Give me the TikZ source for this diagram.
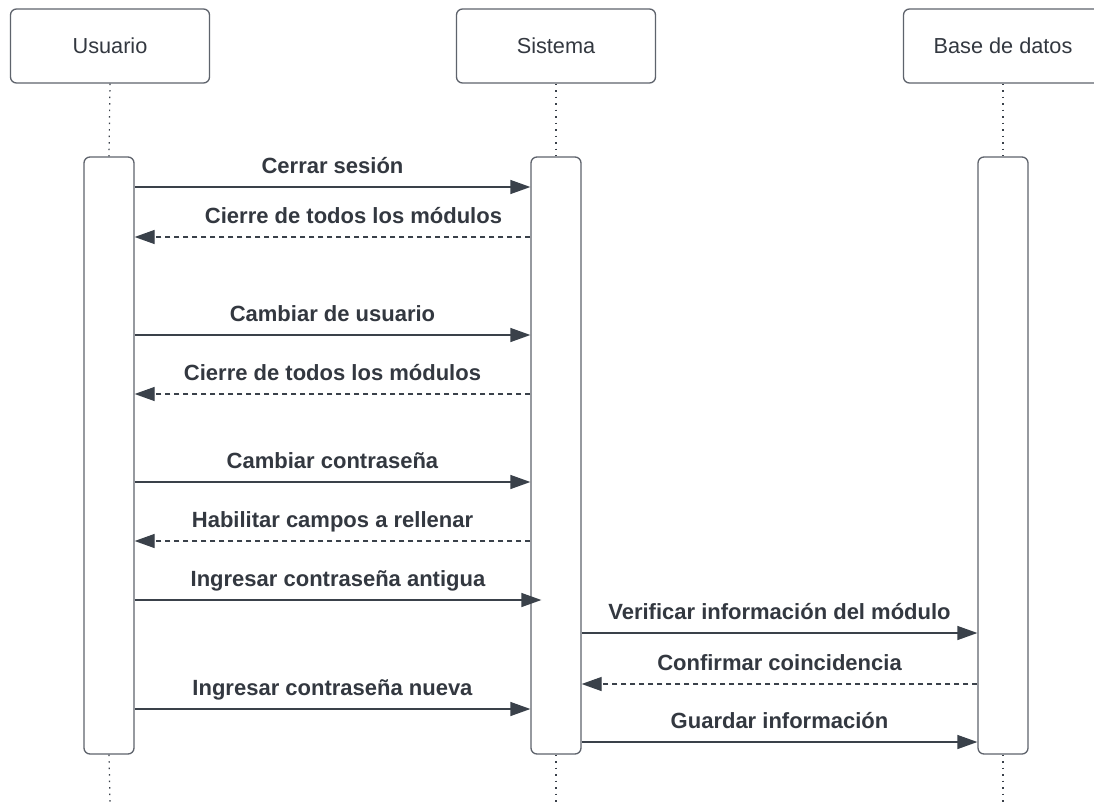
\documentclass[tikz,border=0pt]{standalone}
\usepackage{fontspec}
\setmainfont{Liberation Sans}
\usetikzlibrary{positioning,arrows.meta}

\definecolor{lineGrey}{RGB}{94,99,108}
\definecolor{arrowDark}{RGB}{58,65,74}
\definecolor{textDark}{RGB}{51,56,64}

\begin{document}
\begin{tikzpicture}[
    x=1pt, y=-1pt,
    actor/.style={
        rectangle,
        rounded corners=6pt,
        draw=lineGrey,
        line width=1.3pt,
        fill=white,
        minimum width=199pt,
        minimum height=74pt,
        text=textDark,
        font=\fontsize{21.7}{24}\selectfont
    },
    activation/.style={
        rectangle,
        rounded corners=6pt,
        draw=lineGrey,
        line width=1.3pt,
        fill=white,
        minimum width=50pt,
        minimum height=597pt
    },
    lifeline/.style={
        draw=arrowDark,
        line width=1.2pt,
        dash pattern=on 1.5pt off 5pt
    },
    msg/.style={
        -{Triangle[length=20pt,width=14pt]},
        line width=1.3pt,
        draw=arrowDark
    },
    reply/.style={
        msg,
        dash pattern=on 5pt off 4pt
    },
    msglabel/.style={
        anchor=base,
        yshift=14pt,
        text=textDark,
        font=\fontsize{22}{24}\selectfont\bfseries
    }
]

% Page frame
\useasboundingbox (0,0) rectangle (1094,803);
\clip (0,0) rectangle (1094,803);
\fill[white] (0,0) rectangle (1094,803);

% Participants
\node[actor] (usuario) at (110,46) {Usuario};
\node[actor] (sistema) at (556,46) {Sistema};
\node[actor] (basedatos) at (1003,46) {Base de datos};

% Activation bars
\node[activation] (actU) at (109,455.5) {};
\node[activation] (actS) at (556,455.5) {};
\node[activation] (actD) at (1003,455.5) {};

% Lifelines
\coordinate (endU) at (usuario.center |- 0,803);
\coordinate (endS) at (sistema.center |- 0,803);
\coordinate (endD) at (basedatos.center |- 0,803);
\draw[lifeline] (usuario.south) -- (actU.north);
\draw[lifeline] (sistema.south) -- (actS.north);
\draw[lifeline] (basedatos.south) -- (actD.north);
\draw[lifeline] (actU.south) -- (endU);
\draw[lifeline] (actS.south) -- (endS);
\draw[lifeline] (actD.south) -- (endD);

% Message rows
\coordinate (m1) at (0,187);
\coordinate (m2) at (0,237);
\coordinate (m3) at (0,335);
\coordinate (m4) at (0,394);
\coordinate (m5) at (0,482);
\coordinate (m6) at (0,541);
\coordinate (m7) at (0,600);
\coordinate (m8) at (0,633);
\coordinate (m9) at (0,684);
\coordinate (m10) at (0,709);
\coordinate (m11) at (0,742);

% Messages
\draw[msg] (actU.east |- m1) -- node[msglabel] {Cerrar sesión} (actS.west |- m1);
\draw[reply] (actS.west |- m2) -- node[msglabel, xshift=21pt] {Cierre de todos los módulos} (actU.east |- m2);
\draw[msg] (actU.east |- m3) -- node[msglabel] {Cambiar de usuario} (actS.west |- m3);
\draw[reply] (actS.west |- m4) -- node[msglabel] {Cierre de todos los módulos} (actU.east |- m4);
\draw[msg] (actU.east |- m5) -- node[msglabel] {Cambiar contraseña} (actS.west |- m5);
\draw[reply] (actS.west |- m6) -- node[msglabel] {Habilitar campos a rellenar} (actU.east |- m6);
\draw[msg] (actU.east |- m7) -- node[msglabel] {Ingresar contraseña antigua} ([xshift=11pt]actS.west |- m7);
\draw[msg] (actS.east |- m8) -- node[msglabel] {Verificar información del módulo} (actD.west |- m8);
\draw[reply] (actD.west |- m9) -- node[msglabel] {Confirmar coincidencia} (actS.east |- m9);
\draw[msg] (actU.east |- m10) -- node[msglabel] {Ingresar contraseña nueva} (actS.west |- m10);
\draw[msg] (actS.east |- m11) -- node[msglabel] {Guardar información} (actD.west |- m11);

\end{tikzpicture}
\end{document}
